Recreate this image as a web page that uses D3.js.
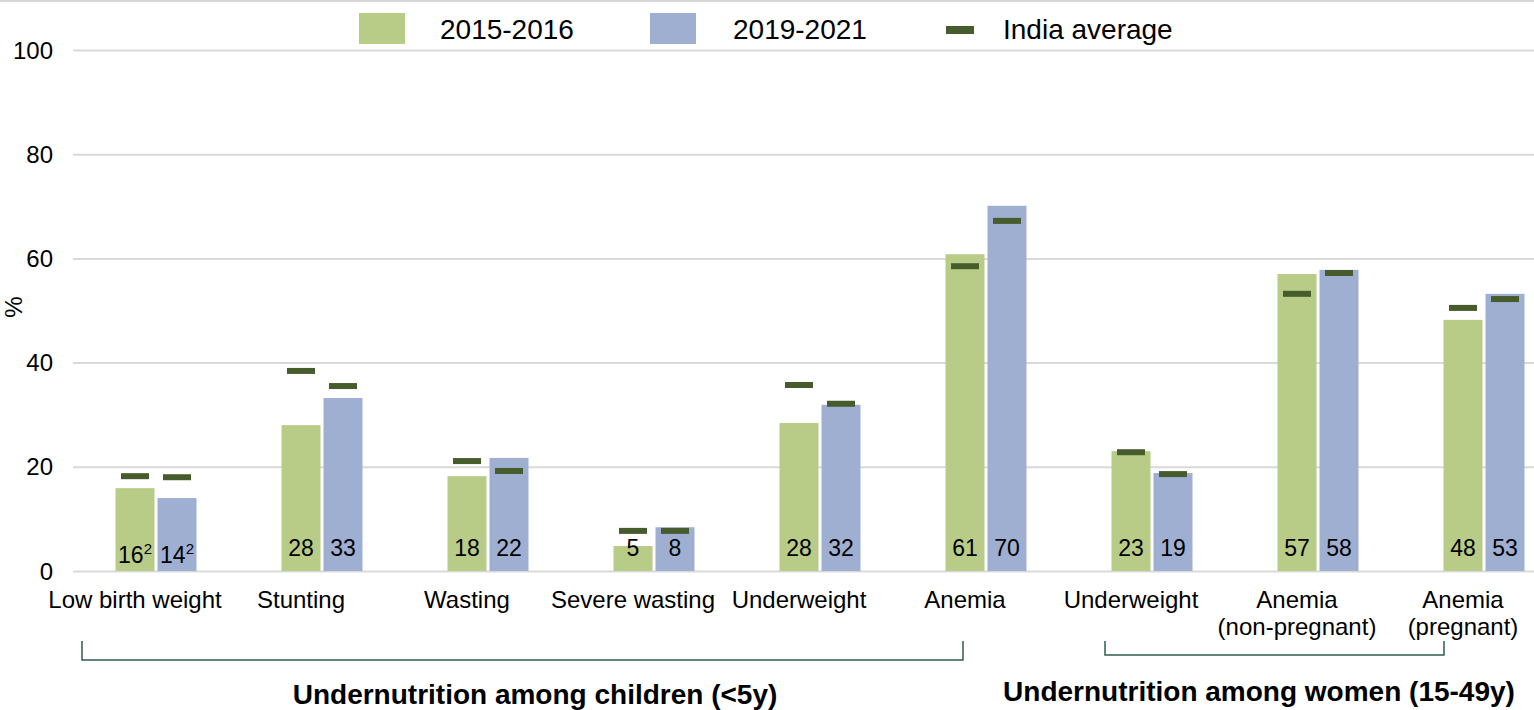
<!DOCTYPE html>
<meta charset="utf-8">
<style>
body { margin: 0; background: #fff; }
svg { font-family: "Liberation Sans", Arial, sans-serif; }
.grid line { stroke: #d9d9d9; stroke-width: 2; }
.grid path { display: none; }
</style>
<body>
<script src="https://cdn.jsdelivr.net/npm/d3@7"></script>
<script>

// data
var categories = ["Low birth weight", "Stunting", "Wasting", "Severe wasting", "Underweight",
                  "Anemia", "Underweight", "Anemia|(non-pregnant)", "Anemia|(pregnant)"];
var v2015 = [15.9, 28.0, 18.2, 4.8, 28.4, 60.8, 23.0, 57.0, 48.2];
var v2019 = [14.0, 33.2, 21.7, 8.4, 31.9, 70.1, 18.8, 57.8, 53.2];
var avg2015 = [18.2, 38.4, 21.1, 7.7, 35.7, 58.5, 22.8, 53.2, 50.5];
var avg2019 = [18.0, 35.5, 19.2, 7.7, 32.1, 67.2, 18.6, 57.2, 52.2];
var labels2015 = ["16", "28", "18", "5", "28", "61", "23", "57", "48"];
var labels2019 = ["14", "33", "22", "8", "32", "70", "19", "58", "53"];
var footnote = ["2", "", "", "", "", "", "", "", ""];
var yTicks = [0, 20, 40, 60, 80, 100];
var seriesNames = ["2015-2016", "2019-2021", "India average"];
var groups = [
  {name: "Undernutrition among children (<5y)", from: 0, to: 5},
  {name: "Undernutrition among women (15-49y)", from: 6, to: 8}
];

var colGreen = "#b8cc87", colBlue = "#9eafd2", colAvg = "#465c2c", colBracket = "#2f5e50";

var W = 1534, H = 710;
var svg = d3.select("body").append("svg").attr("width", W).attr("height", H);

var x = d3.scaleBand().domain(d3.range(categories.length)).range([73, 73 + 166 * 9]).padding(0);
var y = d3.scaleLinear().domain([0, 100]).range([571, 50]);
var bw = 39, gap = 3;

// top border shadow
svg.append("rect").attr("x", 0).attr("y", 0).attr("width", W).attr("height", 2).attr("fill", "#d6d6d6");

// gridlines
svg.append("g").attr("class", "grid")
  .attr("transform", "translate(73,0)")
  .call(d3.axisLeft(y).tickValues(yTicks).tickSize(-(W - 73)).tickFormat(""));

// y tick labels
svg.append("g").selectAll("text").data(yTicks).enter().append("text")
  .attr("x", 53).attr("y", function(d) { return y(d) + 8.5; })
  .attr("text-anchor", "end").style("font-size", "24px").attr("fill", "#000")
  .text(function(d) { return d; });

svg.append("text").attr("transform", "translate(22,307) rotate(-90)")
  .attr("text-anchor", "middle").style("font-size", "24px").text("%");

var cx = function(i) { return x(i) + x.bandwidth() / 2; };

// bars
var series = [
  {vals: v2015, avg: avg2015, lab: labels2015, col: colGreen, dx: -gap / 2 - bw},
  {vals: v2019, avg: avg2019, lab: labels2019, col: colBlue, dx: gap / 2}
];

series.forEach(function(s) {
  var g = svg.append("g");
  g.selectAll("rect.bar").data(s.vals).enter().append("rect")
    .attr("class", "bar")
    .attr("x", function(d, i) { return cx(i) + s.dx; })
    .attr("width", bw)
    .attr("y", function(d) { return y(d); })
    .attr("height", function(d) { return y(0) - y(d); })
    .attr("fill", s.col);

  g.selectAll("rect.avg").data(s.avg).enter().append("rect")
    .attr("class", "avg")
    .attr("x", function(d, i) { return cx(i) + s.dx + bw / 2 - 14; })
    .attr("width", 28)
    .attr("y", function(d) { return y(d) - 3; })
    .attr("height", 6)
    .attr("fill", colAvg);

  var t = g.selectAll("text.val").data(s.lab).enter().append("text")
    .attr("class", "val")
    .attr("x", function(d, i) { return cx(i) + s.dx + bw / 2; })
    .attr("y", function(d, i) { return footnote[i] ? 563 : 556; })
    .attr("text-anchor", "middle").style("font-size", "23px").attr("fill", "#000");
  t.append("tspan").text(function(d) { return d; });
  t.append("tspan").attr("dy", -9).style("font-size", "15px")
    .text(function(d, i) { return footnote[i]; });
});

// category labels (sit a little left of their bars, as in the source)
var cl = svg.append("g").selectAll("text").data(categories).enter().append("text")
  .attr("x", function(d, i) { return cx(i) - 21; })
  .attr("y", 608)
  .attr("text-anchor", "middle").style("font-size", "24px").attr("fill", "#000");
cl.selectAll("tspan").data(function(d) { return d.split("|"); }).enter().append("tspan")
  .attr("x", function() { return d3.select(this.parentNode).attr("x"); })
  .attr("dy", function(d, i) { return i ? 27 : 0; })
  .text(function(d) { return d; });

// group brackets
var bracket = [
  {x0: 82, x1: 963, top: 641, bot: 660},
  {x0: 1105, x1: 1444, top: 641, bot: 655}
];
bracket.forEach(function(b) {
  svg.append("path")
    .attr("d", "M" + b.x0 + "," + b.top + "V" + b.bot + "H" + b.x1 + "V" + b.top)
    .attr("fill", "none").attr("stroke", colBracket).attr("stroke-width", 1.5);
});
svg.append("g").selectAll("text").data(groups).enter().append("text")
  .attr("x", function(d, i) { return i ? 1259 : 535; })
  .attr("y", function(d, i) { return i ? 701 : 704; })
  .attr("text-anchor", "middle").style("font-size", "28px").style("font-weight", "bold")
  .text(function(d) { return d.name; });

// legend
var lg = svg.append("g");
var legendX = [359, 650, 946];
lg.append("rect").attr("x", legendX[0]).attr("y", 13).attr("width", 46).attr("height", 31).attr("fill", colGreen);
lg.append("rect").attr("x", legendX[1]).attr("y", 13).attr("width", 46).attr("height", 31).attr("fill", colBlue);
lg.append("rect").attr("x", legendX[2]).attr("y", 26).attr("width", 28).attr("height", 8).attr("fill", colAvg);
lg.selectAll("text").data(seriesNames).enter().append("text")
  .attr("x", function(d, i) { return [440, 733, 1003][i]; })
  .attr("y", 39).style("font-size", "28px").attr("fill", "#000")
  .text(function(d) { return d; });

</script>
</body>
